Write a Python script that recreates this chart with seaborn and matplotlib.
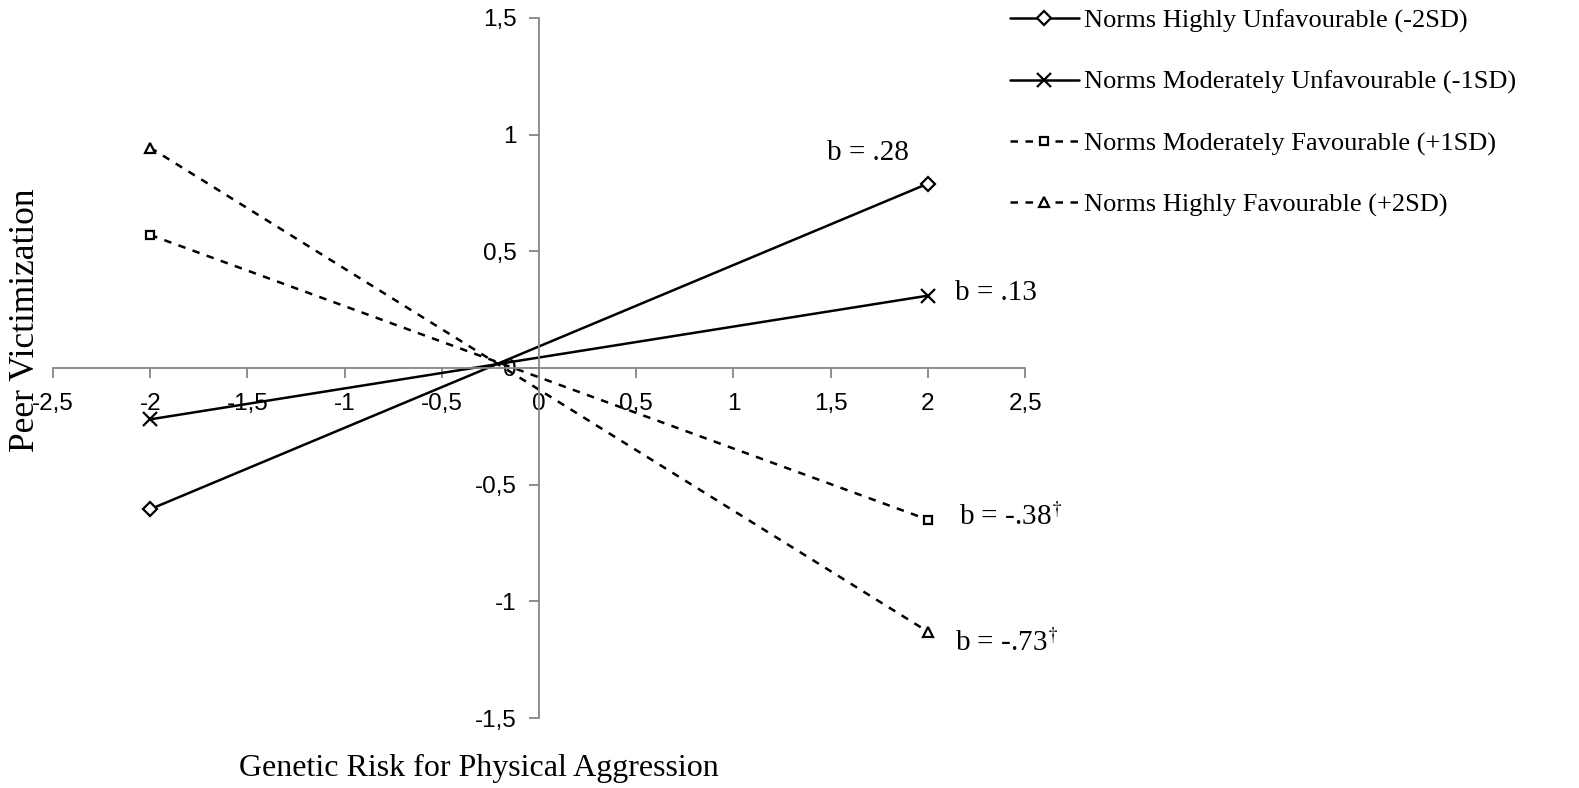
import pandas as pd
import matplotlib
matplotlib.use('Agg')
import matplotlib.pyplot as plt
from matplotlib.ticker import FuncFormatter
import seaborn as sns

# Simple slopes at -2 and +2 on genetic risk
risk = [-2, 2]
norms = ['Norms Highly Unfavourable (-2SD)',
         'Norms Moderately Unfavourable (-1SD)',
         'Norms Moderately Favourable (+1SD)',
         'Norms Highly Favourable (+2SD)']
highly_unfav = [-0.605, 0.79]
mod_unfav = [-0.22, 0.31]
mod_fav = [0.57, -0.65]
highly_fav = [0.944, -1.13]
slope_labels = ['b = .28', 'b = .13', 'b = -.38$^{\u2020}$', 'b = -.73$^{\u2020}$']
x_ticks = [-2.5, -2, -1.5, -1, -0.5, 0, 0.5, 1, 1.5, 2, 2.5]
y_ticks = [-1.5, -1, -0.5, 0, 0.5, 1, 1.5]

series = [highly_unfav, mod_unfav, mod_fav, highly_fav]
markers = ['D', 'x', 's', '^']
styles = ['-', '-', (0, (3, 3)), (0, (3, 3))]
msizes = [7, 10, 6, 7]

sns.set_style('white')
plt.rcParams['font.family'] = ['Liberation Serif', 'DejaVu Serif']
plt.rcParams['mathtext.fontset'] = 'stix'
plt.rcParams['text.color'] = 'black'

fig = plt.figure(figsize=(15.79, 7.88), dpi=100)
ax = fig.add_axes([0.0336, 0.0888, 0.6156, 0.8884])

for name, vals, mk, ls, ms in zip(norms, series, markers, styles, msizes):
    d = pd.DataFrame({'risk': risk, 'victim': vals})
    sns.lineplot(data=d, x='risk', y='victim', color='black', label=name,
                 marker=mk, linestyle=ls, markersize=ms,
                 markerfacecolor='white', markeredgecolor='black',
                 markeredgewidth=1.6, linewidth=1.8, ax=ax)

ax.set_xlim(-2.5, 2.5)
ax.set_ylim(-1.5, 1.5)
ax.set_xticks(x_ticks)
ax.set_yticks(y_ticks)
fmt = FuncFormatter(lambda v, p: f'{v:g}'.replace('.', ','))
ax.xaxis.set_major_formatter(fmt)
ax.yaxis.set_major_formatter(fmt)

for side in ['top', 'right']:
    ax.spines[side].set_visible(False)
for side in ['left', 'bottom']:
    ax.spines[side].set_position(('data', 0))
    ax.spines[side].set_color('#868686')
    ax.spines[side].set_linewidth(1.3)
ax.tick_params(axis='both', direction='out', length=7, width=1.3, color='#868686',
               labelcolor='black', labelsize=17.5, bottom=True, left=True)
ax.tick_params(axis='x', pad=11)
ax.tick_params(axis='y', pad=9)
for lab in ax.get_xticklabels() + ax.get_yticklabels():
    lab.set_family(['Liberation Sans'])
ax.set_xlabel('')
ax.set_ylabel('')

fig.text(0.303, 0.025, 'Genetic Risk for Physical Aggression', fontsize=23,
         ha='center', va='center')
fig.text(0.016, 0.594, 'Peer Victimization', fontsize=25.5, rotation=90,
         ha='center', va='center')

# slope annotations
ax.text(1.69, 0.92, slope_labels[0], fontsize=21, ha='center', va='center')
ax.text(2.14, 0.32, slope_labels[1], fontsize=21, ha='left', va='center')
ax.text(2.16, -0.64, slope_labels[2], fontsize=21, ha='left', va='center')
ax.text(2.14, -1.18, slope_labels[3], fontsize=21, ha='left', va='center')

handles, labels = ax.get_legend_handles_labels()
ax.legend(handles, labels, loc='upper left', bbox_to_anchor=(0.628, 1.012),
          bbox_transform=fig.transFigure, frameon=False, fontsize=19,
          handlelength=2.6, handletextpad=0.2, labelspacing=1.42, borderaxespad=0.3)

fig.savefig('out.png', dpi=100)
